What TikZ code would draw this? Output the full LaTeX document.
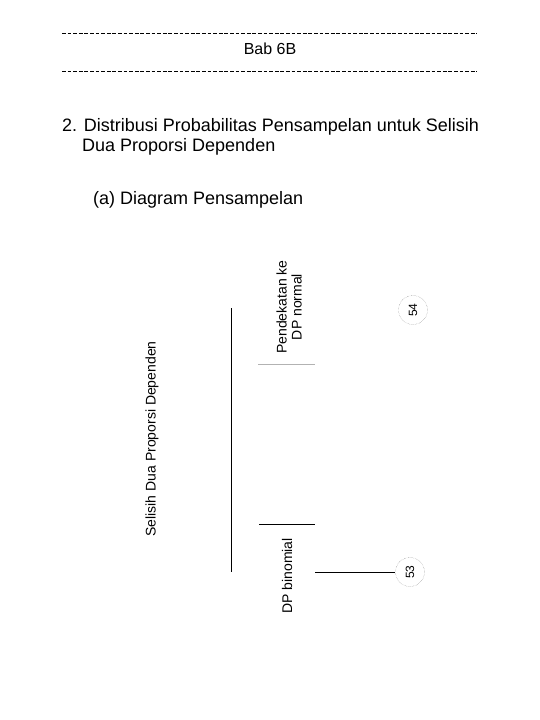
\documentclass[tikz,border=0pt]{standalone}
\usepackage{fontspec}
\setmainfont{Liberation Sans}
\usetikzlibrary{positioning}

\begin{document}
\begin{tikzpicture}[x=1pt, y=-1pt,
    garis/.style={dash pattern=on 3.8pt off 1.8pt, line width=0.8pt},
    judul/.style={anchor=base west, inner sep=0pt, font=\fontsize{18}{20}\selectfont},
    lbl/.style={rotate=90, inner sep=0pt, align=center, font=\fontsize{14}{15}\selectfont},
    nomor/.style={circle, draw=gray, densely dotted, minimum size=29pt, inner sep=0pt, rotate=90, font=\fontsize{12}{14}\selectfont}]
    \useasboundingbox (0,0) rectangle (540,720);
    % kepala halaman
    \draw[garis] (62,33) -- (477,33);
    \node[font=\fontsize{16}{18}\selectfont] (bab) at (270,49) {Bab 6B};
    \draw[garis] (62,71) -- (477,71);
    \node[judul] (j1) at (62,131) {2. Distribusi Probabilitas Pensampelan untuk Selisih};
    \node[judul] (j2) at (82,151) {Dua Proporsi Dependen};
    \node[judul] (sub) at (93,204) {(a) Diagram Pensampelan};
    % diagram
    \node[lbl] (selisih) at (152,439) {Selisih Dua Proporsi Dependen};
    \node[lbl] (normal) at (289,307) {Pendekatan ke\\DP normal};
    \node[lbl] (binom) at (287,576) {DP binomial};
    \node[nomor] (n54) at (413,310) {54};
    \node[nomor] (n53) at (410,572) {53};
    \coordinate (atas) at (231,308);
    \coordinate (bawah) at (231,572);
    \draw[line width=0.8pt] (atas) -- (bawah);
    \draw[gray!60, line width=0.8pt] (258,364) -- (315,364);
    \draw[line width=0.8pt] (259,524) -- (315,524);
    \coordinate (ujung) at (315,572);
    \draw[line width=0.8pt] (ujung) -- (n53);
\end{tikzpicture}
\end{document}
